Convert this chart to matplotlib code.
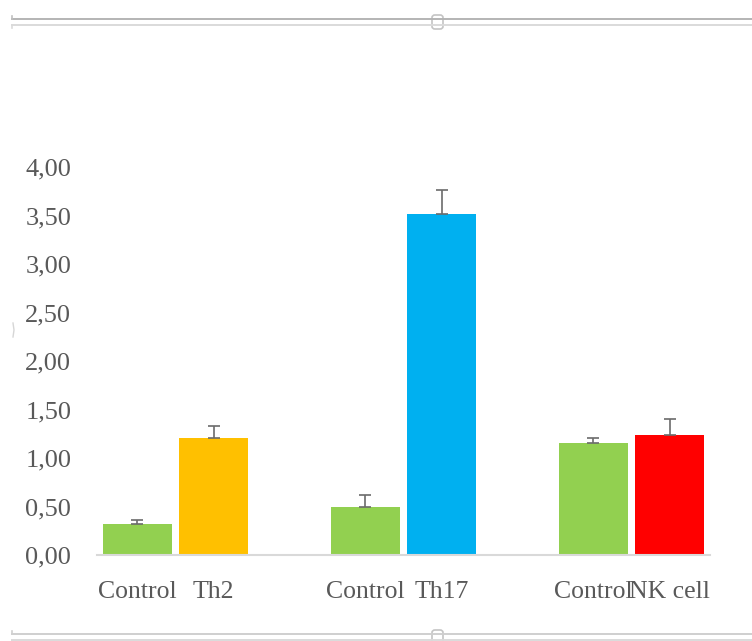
import numpy as np
import matplotlib.pyplot as plt
from matplotlib.lines import Line2D
from matplotlib.patches import FancyBboxPatch

# values
groups = ["Th2", "Th17", "NK cell"]
control = [0.32, 0.49, 1.15]
control_err = [0.04, 0.13, 0.06]
treated = [1.21, 3.52, 1.24]
treated_err = [0.12, 0.24, 0.16]
colors = ["#FFC000", "#00B0F0", "#FF0000"]
green = "#92D050"
yticks = [0, 0.5, 1, 1.5, 2, 2.5, 3, 3.5, 4]

plt.rcParams['font.family'] = ['Liberation Serif', 'DejaVu Serif']
txt = "#595959"

W, H = 752, 641
fig = plt.figure(figsize=(W/100, H/100), dpi=100)
ax = fig.add_axes([97/W, 86/H, 613/W, 388/H])

x = np.arange(len(groups))
w = 0.303
off = 0.167
ax.bar(x - off, control, w, color=green, zorder=2)
ax.bar(x + off, treated, w, color=colors, zorder=2)
ax.errorbar(x - off, control, yerr=[np.zeros(3), control_err], fmt='none',
            ecolor='#6b6b6b', elinewidth=1.2, capsize=4.5, capthick=1.2, zorder=3, clip_on=False)
ax.errorbar(x + off, treated, yerr=[np.zeros(3), treated_err], fmt='none',
            ecolor='#6b6b6b', elinewidth=1.2, capsize=4.5, capthick=1.2, zorder=3, clip_on=False)

ax.set_xlim(-0.344, 2.344)
ax.set_ylim(0, 4)
ax.set_yticks(yticks)
ax.set_yticklabels([f"{v:.2f}".replace('.', ',') for v in yticks])
ax.tick_params(axis='y', length=0, pad=18.5, labelsize=19, labelcolor=txt)

xt = np.concatenate([x - off, x + off])
ax.set_xticks(xt)
ax.set_xticklabels(["Control"] * 3 + groups)
ax.tick_params(axis='x', length=0, pad=19, labelsize=18.5, labelcolor=txt)

for s in ['top', 'right', 'left']:
    ax.spines[s].set_visible(False)
ax.spines['bottom'].set_color('#d9d9d9')
ax.spines['bottom'].set_linewidth(1.5)

# embedded-object frame (top and bottom double lines with handles)
def fy(py):
    return 1 - py / H

for yy, c in [(19, '#b4b4b4'), (25, '#dadada'), (634, '#cfcfcf'), (640, '#dadada')]:
    fig.add_artist(Line2D([12/W, 1], [fy(yy), fy(yy)], color=c, lw=1.4))
fig.add_artist(Line2D([12/W, 12/W], [fy(16), fy(19)], color='#c0c0c0', lw=1.2))
fig.add_artist(Line2D([12/W, 12/W], [fy(25), fy(28)], color='#dadada', lw=1.2))
fig.add_artist(Line2D([12/W, 12/W], [fy(631), fy(634)], color='#d0d0d0', lw=1.2))
for top in (15, 630):
    fig.add_artist(FancyBboxPatch((432/W, fy(top + 14)), 11/W, 14/H,
                                  boxstyle="round,pad=0,rounding_size=0.004",
                                  transform=fig.transFigure, fc='white',
                                  ec='#c4c4c4', lw=1.2))
fig.add_artist(Line2D([13/W, 14/W, 13/W], [fy(323), fy(330), fy(337)],
                      color='#d6d6d6', lw=1.0))

fig.savefig("out.png", dpi=100)
